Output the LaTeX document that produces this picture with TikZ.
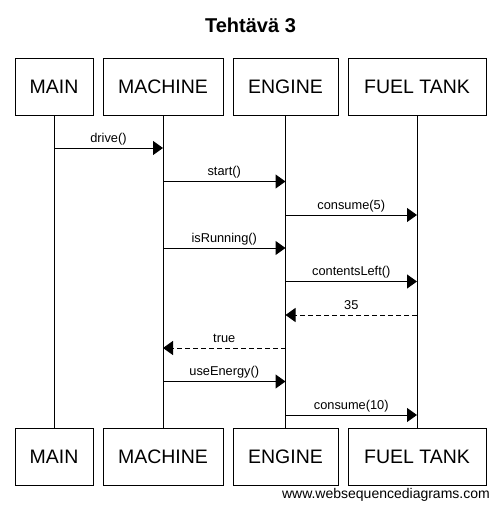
\documentclass[tikz,border=0pt]{standalone}
\usepackage{fontspec}
\setmainfont{Liberation Sans}
\usetikzlibrary{arrows.meta, positioning}

\begin{document}
\begin{tikzpicture}[x=1pt, y=-1pt, >={Triangle[length=10pt, width=14pt]},
  actor/.style={draw, line width=1pt, minimum height=57pt, inner sep=0pt, font=\fontsize{19.5}{23}\selectfont},
  call/.style={->, line width=1pt},
  reply/.style={->, line width=1pt, dash pattern=on 5pt off 3pt},
  msglabel/.style={anchor=base, yshift=6pt, inner sep=0pt, font=\fontsize{12.8}{15}\selectfont}]

\newcommand{\seqActor}[4]{
  % #1 = name, #2 = x, #3 = width, #4 = label
  \node[actor, minimum width=#3] (#1top) at (#2,86.5) {#4};
  \node[actor, minimum width=#3] (#1bot) at (#2,456.5) {#4};
  \draw[line width=1pt] (#1top) -- (#1bot);
}
\newcommand{\seqMsg}[5]{
  % #1 = style, #2 = from, #3 = to, #4 = y, #5 = label
  \draw[#1] (#2top |- 0,#4) -- (#3top |- 0,#4) node[midway, msglabel] {#5};
}

\useasboundingbox (0,0) rectangle (501,509);

% title
\node[font=\bfseries\fontsize{20}{24}\selectfont, anchor=base] (title) at (250.5,32) {Tehtävä 3};

% participants with their lifelines
\seqActor{main}{54}{78pt}{MAIN}
\seqActor{machine}{163}{120pt}{MACHINE}
\seqActor{engine}{285.5}{105pt}{ENGINE}
\seqActor{tank}{417}{138pt}{FUEL TANK}

% messages, top to bottom
\seqMsg{call}{main}{machine}{148}{drive()}
\seqMsg{call}{machine}{engine}{181.5}{start()}
\seqMsg{call}{engine}{tank}{215}{consume(5)}
\seqMsg{call}{machine}{engine}{248}{isRunning()}
\seqMsg{call}{engine}{tank}{281.5}{contentsLeft()}
\seqMsg{reply}{tank}{engine}{315}{35}
\seqMsg{reply}{engine}{machine}{348}{true}
\seqMsg{call}{machine}{engine}{381.5}{useEnergy()}
\seqMsg{call}{engine}{tank}{415}{consume(10)}

% watermark
\node[font=\fontsize{14}{17}\selectfont, anchor=base east, inner sep=0pt] (wsd) at (490,498) {www.websequencediagrams.com};

\end{tikzpicture}
\end{document}
